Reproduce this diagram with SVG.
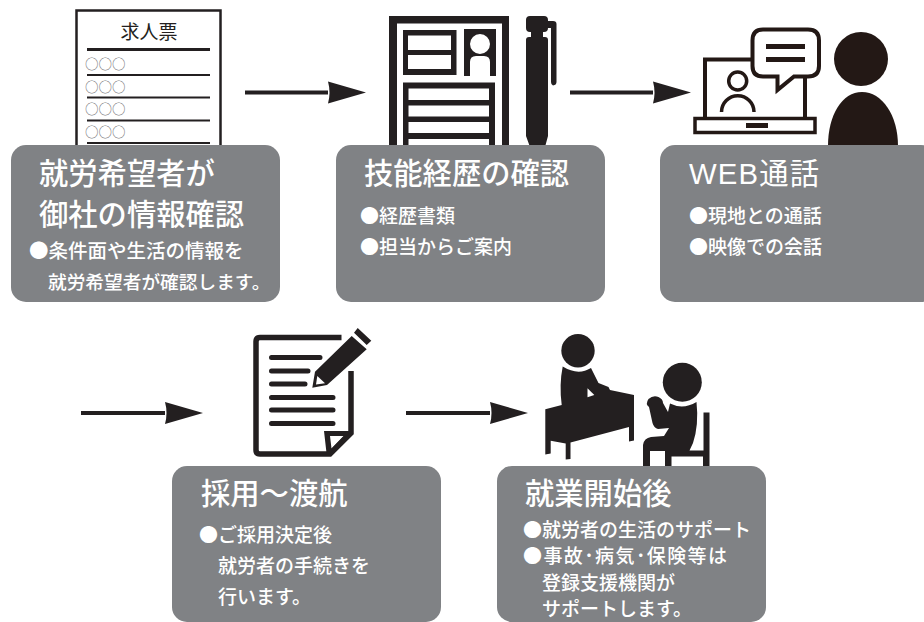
<svg xmlns="http://www.w3.org/2000/svg" width="924" height="622" viewBox="0 0 924 622">
<defs>
<style>
text{font-family:"Noto Sans CJK JP","Noto Sans",sans-serif}
.box{fill:#808285}
.t{fill:#fff;font-size:29.3px;font-weight:500}
.s{fill:#fff;font-size:19px;font-weight:500}
.o{fill:#6d6e71;font-size:13.5px}
.k{fill:#231f20}
.b{fill:#231815}
.w{fill:#fff}
.r{stroke:#231f20;fill:none}
.c{stroke:#231f20;stroke-width:4;fill:none;marker-end:url(#head)}
.l{stroke:#231f20;stroke-width:5;stroke-linecap:round;fill:none}
</style>
<marker id="head" markerUnits="userSpaceOnUse" markerWidth="40" markerHeight="26" refX="0" refY="13" orient="auto">
<path d="M0 2L38 13L0 24Q3 13 0 2Z" fill="#231f20"/>
</marker>
</defs>
<rect width="924" height="622" fill="#fff"/>
<g id="connectors">
<path class="c" d="M245 92.500H328"/>
<path class="c" d="M570 92.500H653"/>
<path class="c" d="M81 413H165"/>
<path class="c" d="M406 413H490"/>
</g>
<g id="step1">
<rect x="76.500" y="10.500" width="144" height="150" fill="#fff" stroke="#231f20" stroke-width="2.500"/>
<text x="149" y="39" text-anchor="middle" font-size="19" fill="#231f20">求人票</text>
<path class="r" stroke-width="3" d="M87 49.500H210"/>
<path class="r" stroke-width="2" d="M87 75H210M87 97.500H210M87 120.500H210M87 143H210"/>
<text class="o" x="85" y="69">○○○</text>
<text class="o" x="85" y="92">○○○</text>
<text class="o" x="85" y="114">○○○</text>
<text class="o" x="85" y="137">○○○</text>
<rect class="box" x="11" y="145" width="269" height="157" rx="15"/>
<text class="t" x="39" y="184">就労希望者が</text>
<text class="t" x="39" y="225">御社の情報確認</text>
<text class="s" x="29" y="258" style="font-size:19.500px">●条件面や生活の情報を</text>
<text class="s" x="48" y="289" style="font-size:18.700px">就労希望者が確認します。</text>
</g>
<g id="step2">
<path class="k" fill-rule="evenodd" d="M389 16H509V150H389ZM397 23.500V150H502V23.500Z"/>
<path class="k" fill-rule="evenodd" d="M403 30H456.500V75H403ZM408 35.500V50H451V35.500ZM408 55V69H451V55Z"/>
<path class="k" fill-rule="evenodd" d="M464 29H496V76H490V62Q490 56 484 56H476Q470 56 470 62V76H464ZM490 44A10 10 0 1 0 470 44A10 10 0 1 0 490 44Z"/>
<path class="k" fill-rule="evenodd" d="M403 82.500H495V150H403ZM408.500 88.500V100H489V88.500ZM408.500 105.500V116.500H489V105.500ZM408.500 122V133H489V122ZM408.500 139V150H489V139Z"/>
<path class="k" d="M526 20Q526 16 530 16H544Q548 16 548 20V21H553Q556.500 21 556.500 24V82Q556.500 85 553 85.500Q551 85 551 82V28H548V28Q548 32 544 32H543V37H545Q548 37 548 40V136L545 147H542L537 145L533 147H530L526 136V40Q526 37 529 37H531V32H530Q526 32 526 28Z"/>
<rect class="box" x="336" y="145" width="269" height="157" rx="15"/>
<text class="t" x="364" y="184">技能経歴の確認</text>
<text class="s" x="360" y="223">●経歴書類</text>
<text class="s" x="360" y="254">●担当からご案内</text>
</g>
<g id="step3">
<rect x="705" y="59.500" width="100" height="60" fill="#fff" stroke="#231815" stroke-width="4"/>
<rect x="695" y="118.500" width="120" height="14" fill="#fff" stroke="#231815" stroke-width="3.500"/>
<rect class="b" x="746" y="123" width="22" height="5"/>
<circle cx="737.700" cy="81" r="9" fill="none" stroke="#231815" stroke-width="3.500"/>
<path d="M721.500 112A16 16 0 0 1 754 112" fill="none" stroke="#231815" stroke-width="3.500"/>
<path d="M763 29.500H808Q819 29.500 819 40.500V66Q819 76.500 808 76.500H794L777.500 90V76.500H763Q752.500 76.500 752.500 66V40.500Q752.500 29.500 763 29.500Z" fill="#fff" stroke="#231815" stroke-width="4"/>
<path class="b" d="M766 44H805V49H766ZM766 57H805V62H766Z"/>
<circle class="b" cx="861" cy="59" r="27"/>
<path class="b" d="M828 146C828 115 842 92 862 92C882 92 898 115 898 146Z"/>
<rect class="box" x="660" y="145" width="276" height="157" rx="15"/>
<text class="t" x="689" y="184" style="font-family:'Liberation Sans','Noto Sans CJK JP',sans-serif;letter-spacing:1.200px;font-weight:400">WEB通話</text>
<text class="s" x="689" y="223">●現地との通話</text>
<text class="s" x="689" y="254">●映像での会話</text>
</g>
<g id="step4">
<path d="M341.500 337.500H260Q256 337.500 256 341.500V450Q256 454 260 454H330L351 433V371" fill="none" stroke="#231f20" stroke-width="5.500"/>
<path class="l" d="M271.500 357.500H320M271.500 371H308M271.500 384H305M271.500 397.500H333M271.500 410H333M271.500 423.500H333"/>
<path class="k" d="M357.700 328L371.300 340.700L366.700 345L354 332.700ZM351.700 336L366.700 349.300L327 385L312.300 387.700L315 371.700Z"/>
<path class="w" d="M317.300 376L325 383.300L316 384.500Z"/>
<path class="k" d="M324 431H351L330 453H326.500ZM330 436L331.500 448.500L343.500 436Z" fill-rule="evenodd"/>
<rect class="box" x="172" y="466" width="269" height="156" rx="15"/>
<text class="t" x="201" y="504">採用〜渡航</text>
<text class="s" x="199" y="542">●ご採用決定後</text>
<text class="s" x="218" y="573">就労者の手続きを</text>
<text class="s" x="218" y="604">行います。</text>
</g>
<g id="step5">
<circle class="k" cx="578" cy="350.700" r="16.700"/>
<path class="k" d="M562.700 366.500Q578 376 591 368L598.500 383L608.500 387L610 390L634 395V440.500L629 441.500V427L570.500 442.500V459L565.700 459.500V443.500L550.700 440.700V453.500L545.300 454.500V409.300L561.700 405Q559 385 562.700 366.500Z"/>
<path class="w" d="M587.500 388.300L594.300 395L587.500 397.300Z"/>
<circle class="k" cx="682.300" cy="382.300" r="19.500"/>
<path class="k" d="M670 403.500Q683 410 696.500 402Q699 425 693 443L689.500 450.500H703.500V412.500H709.500V466H703V456.500H671.500V466H665V451H650L650 466H643V445Q644 438 651 437L664 436L669 428L658 429Q654 428 652.500 423L649 407Q645 404 648.500 399Q653 395 658.500 397Q663 399 663 403L668 412Z"/>
<rect class="box" x="497" y="466" width="269" height="156" rx="15"/>
<text class="t" x="525" y="504">就業開始後</text>
<text class="s" x="523" y="537">●就労者の生活のサポート</text>
<text class="s" x="523" y="563" style="letter-spacing:1.400px">●事故･病気･保険等は</text>
<text class="s" x="542" y="590">登録支援機関が</text>
<text class="s" x="542" y="616">サポートします。</text>
</g>
</svg>
